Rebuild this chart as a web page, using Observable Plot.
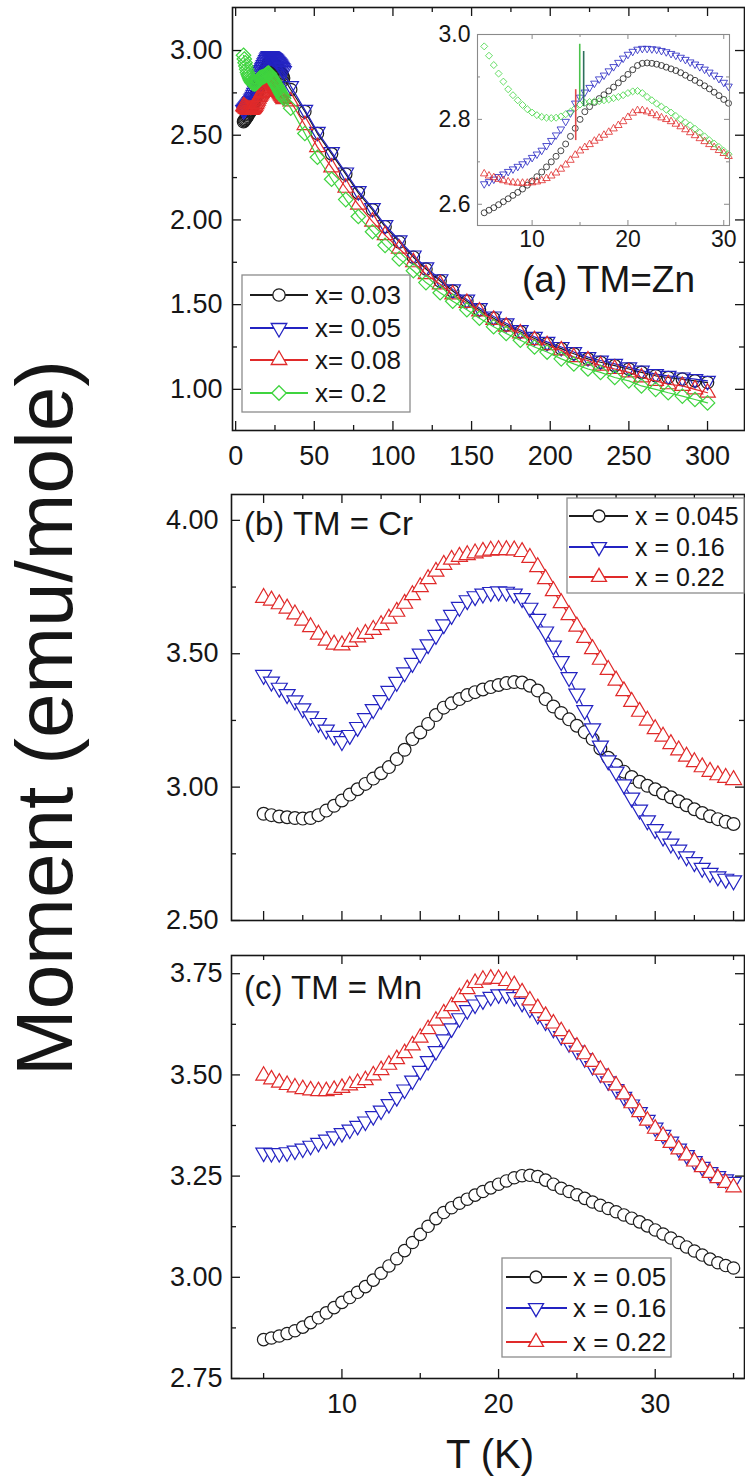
<!DOCTYPE html>
<html>
<head>
<meta charset="utf-8">
<script src="https://cdn.jsdelivr.net/npm/d3@7"></script>
<script src="https://cdn.jsdelivr.net/npm/@observablehq/plot@0.6"></script>
<style>
html,body{margin:0;padding:0;background:#fff;}
#wrap{position:relative;width:745px;height:1481px;overflow:hidden;background:#fff;}
</style>
</head>
<body>
<div id="wrap"></div>
<script>
// ================= DATA =================
// (a) TM = Zn
const seriesZn = ["x= 0.03", "x= 0.05", "x= 0.08", "x= 0.2"];
const tempZnLow = [5,5.5,6,6.5,7,7.5,8,8.5,9,9.5,10,10.5,11,11.5,12,12.5,13,13.5,14,14.5,15,15.5,16,16.5,17,17.5,18,18.5,19,19.5,20,20.5,21,21.5,22,22.5,23,23.5,24,24.5,25,25.5,26,26.5,27,27.5,28,28.5,29,29.5,30,30.5];
const zn003Low = [2.580,2.586,2.592,2.599,2.606,2.613,2.621,2.628,2.636,2.645,2.655,2.665,2.676,2.688,2.700,2.713,2.726,2.742,2.760,2.779,2.800,2.818,2.830,2.840,2.849,2.858,2.867,2.876,2.886,2.896,2.906,2.917,2.927,2.932,2.933,2.932,2.930,2.927,2.923,2.919,2.915,2.910,2.904,2.898,2.892,2.886,2.879,2.872,2.864,2.856,2.847,2.838];
const zn005Low = [2.648,2.653,2.659,2.665,2.671,2.677,2.683,2.689,2.695,2.702,2.710,2.718,2.727,2.738,2.750,2.763,2.777,2.795,2.815,2.838,2.852,2.864,2.875,2.885,2.895,2.904,2.914,2.924,2.934,2.944,2.953,2.960,2.965,2.967,2.967,2.966,2.965,2.962,2.959,2.955,2.951,2.946,2.941,2.935,2.930,2.924,2.918,2.911,2.904,2.896,2.887,2.878];
const zn008Low = [2.672,2.667,2.663,2.659,2.656,2.653,2.651,2.650,2.650,2.650,2.651,2.653,2.656,2.661,2.667,2.674,2.683,2.693,2.704,2.716,2.726,2.734,2.741,2.749,2.756,2.763,2.770,2.778,2.786,2.795,2.805,2.815,2.821,2.821,2.818,2.814,2.809,2.804,2.800,2.795,2.789,2.783,2.776,2.769,2.762,2.755,2.748,2.741,2.734,2.727,2.720,2.713];
const zn020Low = [2.972,2.950,2.928,2.908,2.889,2.871,2.857,2.845,2.834,2.824,2.816,2.810,2.806,2.804,2.803,2.804,2.807,2.812,2.818,2.826,2.835,2.839,2.841,2.842,2.843,2.845,2.847,2.850,2.853,2.857,2.862,2.866,2.867,2.862,2.853,2.845,2.837,2.830,2.823,2.816,2.808,2.800,2.793,2.786,2.778,2.769,2.760,2.751,2.743,2.735,2.726,2.718];
const tempZnHigh = [35,44,52,61,70,78,87,95,104,113,121,130,138,147,155,164,172,181,190,198,207,215,224,232,241,250,258,267,275,284,292,300];
const zn003High = [2.77,2.64,2.51,2.39,2.27,2.16,2.06,1.96,1.87,1.78,1.71,1.64,1.58,1.52,1.47,1.42,1.38,1.34,1.30,1.27,1.24,1.21,1.18,1.16,1.14,1.12,1.10,1.08,1.07,1.06,1.05,1.04];
const zn005High = [2.79,2.65,2.52,2.40,2.28,2.17,2.07,1.97,1.88,1.79,1.72,1.65,1.59,1.53,1.48,1.43,1.39,1.35,1.31,1.28,1.25,1.22,1.19,1.17,1.15,1.13,1.11,1.09,1.08,1.07,1.06,1.05];
const zn008High = [2.70,2.56,2.43,2.31,2.19,2.09,1.99,1.91,1.83,1.75,1.68,1.62,1.56,1.51,1.46,1.41,1.37,1.33,1.29,1.26,1.23,1.19,1.17,1.14,1.12,1.10,1.07,1.05,1.03,1.02,1.00,0.98];
const zn020High = [2.66,2.51,2.37,2.24,2.12,2.02,1.93,1.85,1.77,1.70,1.63,1.57,1.52,1.47,1.42,1.37,1.33,1.29,1.25,1.22,1.18,1.15,1.12,1.10,1.07,1.05,1.02,1.00,0.98,0.96,0.94,0.92];
// spikes seen in the inset near 15 K
const spikeTemp = [14.55, 14.97, 15.38];
const spikeLow  = [2.75, 2.845, 2.83];
const spikeHigh = [2.87, 2.977, 2.96];
const spikeKind = ["x= 0.08", "x= 0.2", "dark"];

// (b) TM = Cr and (c) TM = Mn share the temperature grid
const seriesCr = ["x = 0.045", "x = 0.16", "x = 0.22"];
const seriesMn = ["x = 0.05", "x = 0.16", "x = 0.22"];
const tempCM = [5,5.5,6,6.5,7,7.5,8,8.5,9,9.5,10,10.5,11,11.5,12,12.5,13,13.5,14,14.5,15,15.5,16,16.5,17,17.5,18,18.5,19,19.5,20,20.5,21,21.5,22,22.5,23,23.5,24,24.5,25,25.5,26,26.5,27,27.5,28,28.5,29,29.5,30,30.5,31,31.5,32,32.5,33,33.5,34,34.5,35];
const cr0045 = [2.900,2.895,2.890,2.887,2.884,2.882,2.884,2.895,2.912,2.930,2.950,2.972,2.992,3.012,3.032,3.052,3.075,3.105,3.140,3.180,3.205,3.237,3.270,3.298,3.314,3.330,3.345,3.356,3.366,3.375,3.383,3.390,3.394,3.392,3.380,3.362,3.330,3.302,3.278,3.254,3.230,3.206,3.180,3.145,3.110,3.083,3.058,3.038,3.020,3.005,2.992,2.977,2.962,2.947,2.932,2.917,2.903,2.891,2.880,2.870,2.862];
const cr016 = [3.420,3.395,3.372,3.348,3.325,3.295,3.265,3.240,3.215,3.192,3.172,3.195,3.225,3.258,3.292,3.326,3.360,3.394,3.430,3.465,3.500,3.535,3.570,3.610,3.645,3.675,3.700,3.715,3.725,3.731,3.733,3.732,3.725,3.708,3.672,3.630,3.583,3.530,3.472,3.412,3.350,3.288,3.220,3.155,3.100,3.058,3.010,2.960,2.915,2.875,2.842,2.814,2.788,2.765,2.740,2.718,2.697,2.678,2.665,2.656,2.650];
const cr022 = [3.710,3.700,3.686,3.670,3.648,3.625,3.600,3.572,3.550,3.535,3.532,3.545,3.562,3.575,3.590,3.608,3.632,3.658,3.688,3.720,3.750,3.780,3.808,3.834,3.853,3.864,3.870,3.877,3.883,3.887,3.889,3.889,3.888,3.882,3.860,3.825,3.780,3.735,3.690,3.645,3.602,3.560,3.518,3.478,3.440,3.400,3.360,3.320,3.283,3.250,3.218,3.190,3.162,3.138,3.115,3.094,3.075,3.058,3.045,3.035,3.027];
const mn005 = [2.846,2.850,2.855,2.861,2.868,2.877,2.888,2.900,2.912,2.925,2.938,2.950,2.963,2.977,2.993,3.010,3.028,3.046,3.066,3.086,3.106,3.126,3.145,3.160,3.172,3.183,3.193,3.203,3.212,3.221,3.230,3.238,3.246,3.251,3.252,3.249,3.240,3.230,3.220,3.212,3.204,3.195,3.186,3.178,3.170,3.162,3.154,3.146,3.137,3.127,3.117,3.107,3.097,3.086,3.075,3.065,3.055,3.045,3.036,3.029,3.023];
const mn016 = [3.308,3.307,3.307,3.309,3.313,3.318,3.325,3.332,3.340,3.348,3.356,3.365,3.374,3.385,3.398,3.412,3.428,3.445,3.464,3.486,3.510,3.534,3.559,3.588,3.615,3.640,3.660,3.674,3.684,3.693,3.699,3.699,3.692,3.678,3.664,3.648,3.632,3.614,3.596,3.578,3.560,3.541,3.522,3.503,3.484,3.465,3.446,3.427,3.408,3.389,3.370,3.352,3.335,3.318,3.302,3.287,3.273,3.260,3.250,3.242,3.236];
const mn022 = [3.498,3.489,3.481,3.475,3.469,3.465,3.462,3.460,3.460,3.463,3.468,3.474,3.480,3.487,3.499,3.512,3.525,3.539,3.554,3.573,3.592,3.613,3.634,3.652,3.670,3.692,3.712,3.727,3.735,3.738,3.737,3.732,3.722,3.704,3.684,3.665,3.646,3.627,3.608,3.589,3.570,3.551,3.532,3.513,3.494,3.474,3.452,3.430,3.408,3.387,3.367,3.349,3.332,3.316,3.301,3.286,3.272,3.258,3.245,3.233,3.222];

// tick values and labels
const aXMajor = [0,50,100,150,200,250,300];
const aXMinor = [25,75,125,175,225,275];
const aYMajor = [1.00,1.50,2.00,2.50,3.00];
const aYMinor = [1.25,1.75,2.25,2.75];
const insetXMajor = [10,20,30];
const insetXMinor = [15,25];
const insetYMajor = [2.6,2.8,3.0];
const insetYMinor = [2.7,2.9];
const bXMajor = [5,10,15,20,25,30,35];
const bXMinor = [7.5,12.5,17.5,22.5,27.5,32.5];
const bYMajor = [2.50,3.00,3.50,4.00];
const bYMinor = [2.75,3.25,3.75];
const cXMajor = [10,20,30];
const cXMinor = [5,15,25,35];
const cYMajor = [2.75,3.00,3.25,3.50,3.75];
const cYMinor = [2.875,3.125,3.375,3.625];

// ================= STYLE =================
const FONT = '"Liberation Sans", Arial, Helvetica, sans-serif';
const INK = "#161616";
const palette = ["#1c1c1c", "#2323c2", "#e02a2a", "#3fd43f"];
const spikeColors = {"x= 0.08": "#e04a4a", "x= 0.2": "#4cc24c", "dark": "#2f6f5c"};
const triangleDown = {
  draw(context, size) {
    const y = -Math.sqrt(size / (Math.sqrt(3) * 3));
    context.moveTo(0, -y * 2);
    context.lineTo(-Math.sqrt(3) * y, y);
    context.lineTo(Math.sqrt(3) * y, y);
    context.closePath();
  }
};
const symbols = ["circle", triangleDown, "triangle", "diamond2"];
const d3Symbols = [d3.symbolCircle, triangleDown, d3.symbolTriangle, d3.symbolDiamond2];
const symbolScale = [1, 0.93, 0.93, 1.05];

function rowsOf(temps, values) { return temps.map((T, i) => ({T, M: values[i]})); }

const wrap = document.getElementById("wrap");

function panel(o) {
  const W = o.width - o.ml - o.mr, H = o.height - o.mt - o.mb;
  const marks = [];
  o.groups.forEach((g, k) => {
    marks.push(Plot.line(g, {x: "T", y: "M", stroke: palette[k], strokeWidth: o.lineWidth}));
    marks.push(Plot.dot(g, {x: "T", y: "M", symbol: symbols[k], r: o.r * symbolScale[k],
      stroke: palette[k], strokeWidth: o.markWidth, fill: o.markFill}));
  });
  if (o.extra) marks.push(...o.extra);
  const tc = {stroke: o.tickColor, strokeWidth: o.tickWidth};
  marks.push(
    Plot.tickX(o.xMajor, {x: d => d, insetTop: H - o.majorLen, ...tc}),
    Plot.tickX(o.xMajor, {x: d => d, insetBottom: H - o.majorLen, ...tc}),
    Plot.tickX(o.xMinor, {x: d => d, insetTop: H - o.minorLen, ...tc}),
    Plot.tickX(o.xMinor, {x: d => d, insetBottom: H - o.minorLen, ...tc}),
    Plot.tickY(o.yMajor, {y: d => d, insetRight: W - o.majorLen, ...tc}),
    Plot.tickY(o.yMajor, {y: d => d, insetLeft: W - o.majorLen, ...tc}),
    Plot.tickY(o.yMinor, {y: d => d, insetRight: W - o.minorLen, ...tc}),
    Plot.tickY(o.yMinor, {y: d => d, insetLeft: W - o.minorLen, ...tc}),
    Plot.frame({stroke: o.frameColor, strokeWidth: o.frameWidth})
  );
  if (o.xLabels) marks.push(Plot.axisX({ticks: o.xLabels, tickSize: 0, tickPadding: o.xPad, tickFormat: o.xFmt, label: null}));
  marks.push(Plot.axisY({ticks: o.yMajor, tickSize: 0, tickPadding: o.yPad, tickFormat: o.yFmt, label: null}));
  const svg = Plot.plot({
    width: o.width, height: o.height,
    marginLeft: o.ml, marginRight: o.mr, marginTop: o.mt, marginBottom: o.mb,
    x: o.xLabels ? {domain: o.xDomain} : {domain: o.xDomain, axis: null},
    y: {domain: o.yDomain},
    style: {position: "absolute", left: o.left + "px", top: o.top + "px", background: "transparent",
      fontFamily: FONT, fontSize: o.fontSize + "px", color: INK, overflow: "visible"},
    marks
  });
  wrap.appendChild(svg);
}

const common = {lineWidth: 1.2, markWidth: 1.2, tickColor: INK, tickWidth: 1.3, frameColor: INK, frameWidth: 1.6, majorLen: 9, minorLen: 5};

// Panel (a)
panel({...common, left: 0, top: 0, width: 745, height: 480, ml: 232, mr: 1, mt: 7, mb: 50,
  xDomain: [-2, 323.5], yDomain: [0.757, 3.254],
  groups: [
    rowsOf(tempZnLow.concat(tempZnHigh), zn003Low.concat(zn003High)),
    rowsOf(tempZnLow.concat(tempZnHigh), zn005Low.concat(zn005High)),
    rowsOf(tempZnLow.concat(tempZnHigh), zn008Low.concat(zn008High)),
    rowsOf(tempZnLow.concat(tempZnHigh), zn020Low.concat(zn020High))
  ],
  r: 6.2, markFill: "none",
  xMajor: aXMajor, xMinor: aXMinor, yMajor: aYMajor, yMinor: aYMinor,
  xLabels: aXMajor, xPad: 15, xFmt: d3.format("d"), yPad: 10, yFmt: d3.format(".2f"), fontSize: 27});

// Inset of (a)
const spikeRows = spikeTemp.map((T, i) => ({T, lo: spikeLow[i], hi: spikeHigh[i], kind: spikeKind[i]}));
panel({left: 437, top: 14, width: 300, height: 241, ml: 40, mr: 8, mt: 20, mb: 30,
  xDomain: [4.3, 30.6], yDomain: [2.55, 3.0],
  groups: [
    rowsOf(tempZnLow, zn003Low), rowsOf(tempZnLow, zn005Low),
    rowsOf(tempZnLow, zn008Low), rowsOf(tempZnLow, zn020Low)
  ],
  extra: [Plot.ruleX(spikeRows, {x: "T", y1: "lo", y2: "hi", stroke: d => spikeColors[d.kind], strokeWidth: 1.6})],
  r: 3, markFill: "none", lineWidth: 0, markWidth: 0.8,
  tickColor: "#8a8a8a", tickWidth: 1, frameColor: "#8a8a8a", frameWidth: 1.1, majorLen: 5, minorLen: 3,
  xMajor: insetXMajor, xMinor: insetXMinor, yMajor: insetYMajor, yMinor: insetYMinor,
  xLabels: insetXMajor, xPad: 5, xFmt: d3.format("d"), yPad: 7, yFmt: d3.format(".1f"), fontSize: 23});

// Panel (b)
panel({...common, left: 0, top: 480, width: 745, height: 445, ml: 231, mr: 1, mt: 14, mb: 5,
  xDomain: [2.95, 35.7], yDomain: [2.5, 4.097],
  groups: [rowsOf(tempCM, cr0045), rowsOf(tempCM, cr016), rowsOf(tempCM, cr022)],
  r: 6.4, markFill: "white",
  xMajor: bXMajor, xMinor: bXMinor, yMajor: bYMajor, yMinor: bYMinor,
  xLabels: null, yPad: 13, yFmt: d3.format(".2f"), fontSize: 27});

// Panel (c)
panel({...common, left: 0, top: 930, width: 745, height: 500, ml: 231, mr: 1, mt: 25, mb: 52,
  xDomain: [2.95, 35.7], yDomain: [2.75, 3.795],
  groups: [rowsOf(tempCM, mn005), rowsOf(tempCM, mn016), rowsOf(tempCM, mn022)],
  r: 6.2, markFill: "white",
  xMajor: cXMajor, xMinor: cXMinor, yMajor: cYMajor, yMinor: cYMinor,
  xLabels: cXMajor, xPad: 15, xFmt: d3.format("d"), yPad: 9, yFmt: d3.format(".2f"), fontSize: 27});

// ================= OVERLAY: titles, panel labels, legends =================
const ov = d3.select(wrap).append("svg")
  .attr("width", 745).attr("height", 1481)
  .style("position", "absolute").style("left", "0px").style("top", "0px")
  .style("font-family", FONT).attr("fill", INK);

ov.append("text").attr("transform", "translate(72,718) rotate(-90)")
  .attr("text-anchor", "middle").attr("font-size", 80).text("Moment (emu/mole)");
ov.append("text").attr("x", 490).attr("y", 1468).attr("text-anchor", "middle")
  .attr("font-size", 40).text("T (K)");
ov.append("text").attr("x", 522).attr("y", 292).attr("font-size", 37).text("(a) TM=Zn");
ov.append("text").attr("x", 244).attr("y", 535).attr("font-size", 33).text("(b) TM = Cr");
ov.append("text").attr("x", 244).attr("y", 999).attr("font-size", 33).text("(c) TM = Mn");

function legend(o) {
  ov.append("rect").attr("x", o.x0).attr("y", o.y0).attr("width", o.x1 - o.x0).attr("height", o.y1 - o.y0)
    .attr("fill", "#fff").attr("stroke", "#8c8c8c").attr("stroke-width", 1.3);
  o.names.forEach((name, i) => {
    const y = o.rows[i];
    ov.append("line").attr("x1", o.lx1).attr("x2", o.lx2).attr("y1", y).attr("y2", y)
      .attr("stroke", palette[i]).attr("stroke-width", 1.8);
    ov.append("path").attr("d", d3.symbol(d3Symbols[i], Math.PI * Math.pow(o.r * symbolScale[i], 2))())
      .attr("transform", `translate(${o.mx},${y})`)
      .attr("fill", "#fff").attr("stroke", palette[i]).attr("stroke-width", 1.3);
    ov.append("text").attr("x", o.tx).attr("y", y + o.fs * 0.36).attr("font-size", o.fs).text(name);
  });
}
legend({x0: 242, y0: 275, x1: 410, y1: 412, rows: [295, 328, 360, 393], names: seriesZn,
  lx1: 250, lx2: 308, mx: 279, tx: 315, fs: 26, r: 6.2});
legend({x0: 567, y0: 498, x1: 744, y1: 593, rows: [516, 547, 577], names: seriesCr,
  lx1: 569, lx2: 628, mx: 599, tx: 635, fs: 25, r: 6});
legend({x0: 502, y0: 1258, x1: 671, y1: 1357, rows: [1277, 1308, 1342], names: seriesMn,
  lx1: 506, lx2: 567, mx: 536, tx: 573, fs: 26, r: 6});
</script>
</body>
</html>
